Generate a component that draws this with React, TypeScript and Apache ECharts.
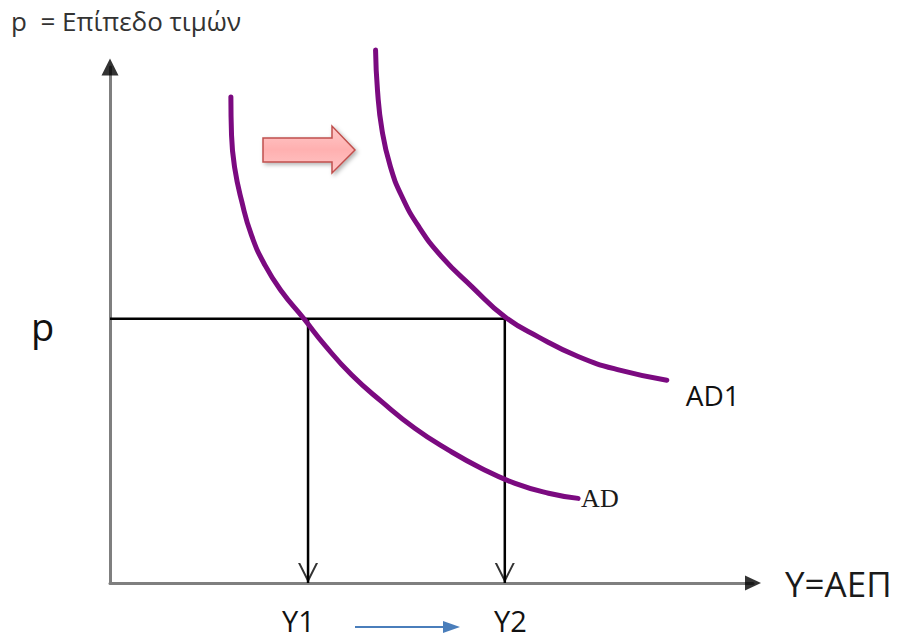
import React, { useEffect, useRef } from "react";
import * as echarts from "echarts";

// Conceptual diagram values (axis scale 0..100 on both axes)
const adCurve: [number, number][] = [
  [18.8, 94.2], [18.9, 86.8], [19.4, 80.4], [20.5, 73.9], [22.0, 67.4], [24.1, 61.6],
  [26.7, 56.5], [30.1, 51.3], [33.4, 46.1], [37.6, 40.3], [42.3, 35.1], [47.4, 30.0],
  [52.6, 25.8], [57.8, 22.2], [63.0, 19.3], [68.2, 17.4], [72.8, 16.4],
];
const ad1Curve: [number, number][] = [
  [41.3, 103.3], [41.6, 95.5], [42.3, 87.8], [43.6, 80.7], [45.4, 74.9], [48.0, 69.1],
  [51.6, 63.2], [56.3, 57.4], [61.4, 51.6], [66.6, 47.7], [72.8, 43.9], [79.1, 41.3],
  [86.6, 39.3],
];
const priceLevel = 51.2;
const outputY1 = 30.8;
const outputY2 = 61.4;
const axisMax = 100;

const titleText = "p  = Επίπεδο τιμών";
const xAxisName = "Y=ΑΕΠ";
const priceLabel = "p";
const y1Label = "Y1";
const y2Label = "Y2";
const adLabel = "AD";
const ad1Label = "AD1";

const PURPLE = "#7b0a80";
const FONT = "'Open Sans', 'Noto Sans', sans-serif";

const chevron = "path://M0,0 L10,20 L20,0 L17.8,0 L10,15.6 L2.2,0 Z";

export default function App() {
  const ref = useRef<HTMLDivElement>(null);
  useEffect(() => {
    if (!ref.current) return;
    const chart = echarts.init(ref.current, null, { renderer: "svg" });
    chart.setOption({
      animation: false,
      backgroundColor: "#ffffff",
      grid: { left: 110, right: 144, top: 67, bottom: 56 },
      xAxis: {
        type: "value",
        min: 0,
        max: axisMax,
        name: xAxisName,
        nameLocation: "end",
        nameGap: 32,
        nameTextStyle: { fontSize: 35, color: "#1a1a1a", fontFamily: FONT, align: "left", verticalAlign: "middle" },
        axisLine: { show: true, lineStyle: { color: "#7f7f7f", width: 3 } },
        axisTick: { show: false },
        axisLabel: { show: false },
        splitLine: { show: false },
      },
      yAxis: {
        type: "value",
        min: 0,
        max: axisMax,
        axisLine: { show: true, lineStyle: { color: "#7f7f7f", width: 3 } },
        axisTick: { show: false },
        axisLabel: { show: false },
        splitLine: { show: false },
      },
      series: [
        {
          type: "line",
          data: [[0, priceLevel], [outputY2, priceLevel], [outputY2, 0]],
          showSymbol: false,
          clip: false,
          lineStyle: { color: "#000", width: 2.5 },
          z: 3,
        },
        {
          type: "line",
          data: [[outputY1, priceLevel], [outputY1, 0]],
          showSymbol: false,
          clip: false,
          lineStyle: { color: "#000", width: 2.5 },
          z: 3,
        },
        {
          type: "scatter",
          data: [[outputY1, 0], [outputY2, 0]],
          symbol: chevron,
          symbolSize: [20, 20],
          symbolOffset: [0, -10],
          itemStyle: { color: "#000" },
          clip: false,
          z: 4,
        },
        {
          type: "scatter",
          data: [
            { value: [0, axisMax], symbolRotate: 0, symbolSize: [17, 17] },
            { value: [axisMax, 0], symbolRotate: -90, symbolSize: [15, 16] },
          ],
          symbol: "triangle",
          itemStyle: { color: "#000" },
          clip: false,
          z: 5,
        },
        {
          type: "line",
          data: adCurve,
          smooth: 0.5,
          showSymbol: false,
          clip: false,
          lineStyle: { color: PURPLE, width: 5, cap: "round" },
          endLabel: {
            show: true,
            formatter: adLabel,
            distance: 3,
            fontFamily: "'Liberation Serif', 'DejaVu Serif', serif",
            fontSize: 26,
            color: "#1a1a1a",
          },
          z: 6,
        },
        {
          type: "line",
          data: ad1Curve,
          smooth: 0.5,
          showSymbol: false,
          clip: false,
          lineStyle: { color: PURPLE, width: 5, cap: "round" },
          endLabel: {
            show: true,
            formatter: ad1Label,
            distance: 5,
            offset: [14, 15],
            fontFamily: FONT,
            fontSize: 28,
            color: "#111",
          },
          z: 6,
        },
      ],
      graphic: [
        {
          type: "text",
          left: 11,
          top: 8,
          style: { text: titleText, fontSize: 26, fontFamily: FONT, fill: "#333" },
        },
        {
          type: "text",
          x: 31,
          y: 326,
          style: { text: priceLabel, fontSize: 38, fontFamily: FONT, fill: "#111", verticalAlign: "middle" },
        },
        {
          type: "text",
          x: 282,
          y: 620,
          style: { text: y1Label, fontSize: 29, fontFamily: FONT, fill: "#111", verticalAlign: "middle" },
        },
        {
          type: "text",
          x: 494,
          y: 620,
          style: { text: y2Label, fontSize: 29, fontFamily: FONT, fill: "#111", verticalAlign: "middle" },
        },
        {
          type: "line",
          shape: { x1: 355, y1: 627, x2: 446, y2: 627 },
          style: { stroke: "#4a7ebb", lineWidth: 2 },
        },
        {
          type: "polygon",
          shape: { points: [[443, 621], [460, 627], [443, 633]] },
          style: { fill: "#4a7ebb" },
        },
        {
          type: "polygon",
          shape: {
            points: [[263, 138], [332, 138], [332, 126], [355, 150], [332, 173], [332, 162], [263, 162]],
          },
          style: {
            fill: new echarts.graphic.LinearGradient(0, 0, 0, 1, [
              { offset: 0, color: "#ffc9c9" },
              { offset: 0.5, color: "#ffb0b0" },
              { offset: 1, color: "#ffc6c6" },
            ]),
            stroke: "#c0504d",
            lineWidth: 1.5,
            shadowBlur: 4,
            shadowOffsetX: 2,
            shadowOffsetY: 2,
            shadowColor: "rgba(0,0,0,0.3)",
          },
        },
      ],
    });
    return () => chart.dispose();
  }, []);
  return <div ref={ref} style={{ position: "absolute", left: 0, top: 0, width: 897, height: 639 }} />;
}
